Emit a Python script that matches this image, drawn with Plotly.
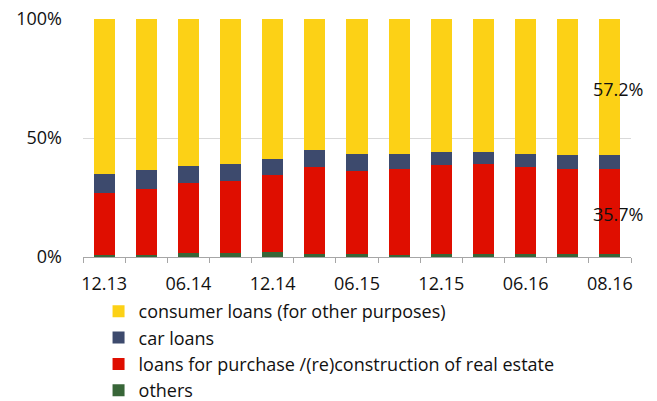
import plotly.graph_objects as go

# Structure of household loans by purpose, share of total (%)
periods = ["12.13", "03.14", "06.14", "09.14", "12.14", "03.15", "06.15",
           "09.15", "12.15", "03.16", "06.16", "07.16", "08.16"]
others = [0.7, 0.8, 1.8, 1.7, 2.0, 1.1, 1.1, 0.8, 1.4, 1.4, 1.4, 1.4, 1.1]
real_estate = [26.1, 27.9, 29.2, 30.2, 32.3, 36.8, 35.2, 36.0, 37.1, 37.5, 36.3, 35.7, 35.7]
car = [8.1, 7.7, 7.4, 7.3, 6.7, 7.1, 6.8, 6.5, 5.5, 5.4, 5.4, 5.9, 6.0]
consumer = [65.1, 63.6, 61.6, 60.8, 59.0, 55.0, 56.9, 56.7, 56.0, 55.7, 56.9, 57.0, 57.2]

# only every second period gets a visible label
tick_text = [p if i % 2 == 0 else "" for i, p in enumerate(periods)]
y_ticks = [0, 50, 100]
y_tick_text = [f"{v}%" for v in y_ticks]

FONT = "Open Sans"
TEXT = "#111111"
series = [
    ("others", others, "#386638"),
    ("loans for purchase /(re)construction of real estate", real_estate, "#DF0E00"),
    ("car loans", car, "#3D4A6D"),
    ("consumer loans (for other purposes)", consumer, "#FCD116"),
]

fig = go.Figure()
for name, vals, color in series:
    fig.add_trace(go.Bar(
        x=periods, y=vals, name=name,
        marker=dict(color=color, line=dict(width=0)),
        hoverinfo="skip",
    ))

# value labels on the latest bar, centred in their segments
last = len(periods) - 1
re_mid = others[last] + real_estate[last] / 2
cons_mid = others[last] + real_estate[last] + car[last] + consumer[last] / 2
for yv, val in [(cons_mid, consumer[last]), (re_mid, real_estate[last])]:
    fig.add_annotation(
        x=last, y=yv, text=f"{val:.1f}%", showarrow=False,
        xshift=8, yshift=-2, font=dict(family=FONT, size=18, color=TEXT),
    )

fig.update_layout(
    template="none",
    width=657, height=401,
    margin=dict(l=83, r=26, t=19, b=144, pad=0, autoexpand=False),
    barmode="stack", bargap=0.5,
    plot_bgcolor="white", paper_bgcolor="white",
    font=dict(family=FONT, size=18, color=TEXT),
    showlegend=True,
    legend=dict(
        orientation="v", traceorder="reversed",
        x=0.15, xanchor="left", xref="container",
        y=0.2695, yanchor="top", yref="container",
        font=dict(family=FONT, size=18, color=TEXT),
        itemwidth=30, tracegroupgap=0, borderwidth=0,
        bgcolor="rgba(0,0,0,0)",
    ),
    xaxis=dict(
        type="category", automargin=False,
        range=[-0.5, len(periods) - 0.5],
        tickmode="array", tickvals=periods, ticktext=tick_text,
        tickangle=0,
        tickson="boundaries", ticks="outside", ticklen=5, tickwidth=1,
        tickcolor="#a6a6a6",
        showline=True, linecolor="#a6a6a6", linewidth=1,
        showgrid=False, zeroline=False,
        ticklabelstandoff=10,
        tickfont=dict(family=FONT, size=18, color=TEXT),
    ),
    yaxis=dict(
        automargin=False,
        range=[0, 100], tickmode="array", tickvals=y_ticks, ticktext=y_tick_text,
        showgrid=True, gridcolor="#d9d9d9", gridwidth=1,
        zeroline=False, showline=False, ticks="",
        ticklabelstandoff=20,
        tickfont=dict(family=FONT, size=18, color=TEXT),
    ),
)

fig.write_html("out.html")
